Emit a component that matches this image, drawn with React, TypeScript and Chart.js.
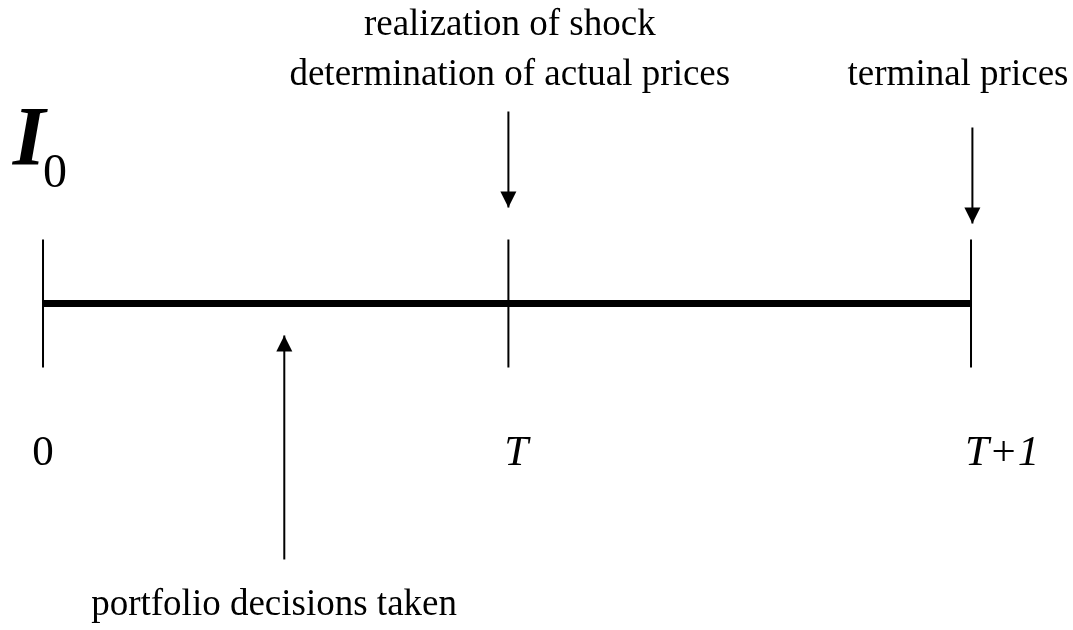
import React, { useEffect, useRef } from "react";
import { Chart, registerables } from "chart.js";

Chart.register(...registerables);

// Time points on the line: 0, T, T+1
const TIME_POINTS = [0, 1.003, 2];
const TIME_LABELS = ["0", "T", "T+1"];
const TIME_LABEL_X = [0, 1.02, 2.067];
const TIME_LABEL_Y = -2.52;
const TIME_LABEL_ITALIC = [false, true, true];

// Vertical extent of tick marks at each time point
const TICK_TOP = 1;
const TICK_BOTTOM = -1;

// Arrows: x position, start y, tip y
const ARROW_X = [1.003, 2.003, 0.52];
const ARROW_FROM = [3.0, 2.75, -4.0];
const ARROW_TO = [1.5, 1.25, -0.5];

// Annotation texts with anchor positions (data units)
const NOTE_TEXTS = [
  "realization of shock",
  "determination of actual prices",
  "terminal prices",
  "portfolio decisions taken",
];
const NOTE_X = [1.006, 1.006, 1.972, 0.498];
const NOTE_Y = [4.195, 3.414, 3.414, -4.867];

// Initial condition label I_0
const INIT_MAIN = "I";
const INIT_SUB = "0";
const INIT_MAIN_POS = [-0.03, 2.164];
const INIT_SUB_POS = [0.026, 1.82];

// Axis ranges
const X_RANGE = [-0.0927, 2.2198];
const Y_RANGE = [-5.102, 4.742];

const SERIF = '"Liberation Serif", "Times New Roman", serif';

export default function App() {
  const canvasRef = useRef<HTMLCanvasElement | null>(null);

  useEffect(() => {
    const canvas = canvasRef.current;
    if (!canvas) return;

    const datasets: any[] = [];
    // Main timeline
    datasets.push({
      label: "timeline",
      data: [
        { x: TIME_POINTS[0], y: 0 },
        { x: TIME_POINTS[TIME_POINTS.length - 1], y: 0 },
      ],
      borderColor: "#000",
      borderWidth: 7,
      borderCapStyle: "butt",
      pointRadius: 0,
      showLine: true,
    });
    // Tick marks
    TIME_POINTS.forEach((t, i) => {
      datasets.push({
        label: "tick" + i,
        data: [
          { x: t, y: TICK_TOP },
          { x: t, y: TICK_BOTTOM },
        ],
        borderColor: "#000",
        borderWidth: 2,
        pointRadius: 0,
        showLine: true,
      });
    });
    // Arrows
    ARROW_X.forEach((ax, i) => {
      datasets.push({
        label: "arrow" + i,
        isArrow: true,
        data: [
          { x: ax, y: ARROW_FROM[i] },
          { x: ax, y: ARROW_TO[i] },
        ],
        borderColor: "#000",
        borderWidth: 2,
        pointRadius: 0,
        showLine: true,
      });
    });

    const overlay = {
      id: "overlay",
      afterDatasetsDraw(chart: any) {
        const ctx = chart.ctx;
        const xs = chart.scales.x;
        const ys = chart.scales.y;
        ctx.save();
        // Arrowheads
        chart.data.datasets.forEach((ds: any, di: number) => {
          if (!ds.isArrow) return;
          const meta = chart.getDatasetMeta(di);
          const p0 = meta.data[0];
          const p1 = meta.data[1];
          const dir = p1.y > p0.y ? 1 : -1;
          const len = 16;
          const half = 8;
          ctx.beginPath();
          ctx.moveTo(p1.x, p1.y);
          ctx.lineTo(p1.x - half, p1.y - dir * len);
          ctx.lineTo(p1.x + half, p1.y - dir * len);
          ctx.closePath();
          ctx.fillStyle = "#000";
          ctx.fill();
        });
        // Texts
        ctx.fillStyle = "#000";
        ctx.textBaseline = "alphabetic";
        ctx.textAlign = "center";
        ctx.font = `37px ${SERIF}`;
        NOTE_TEXTS.forEach((t, i) => {
          ctx.fillText(t, xs.getPixelForValue(NOTE_X[i]), ys.getPixelForValue(NOTE_Y[i]));
        });
        TIME_LABELS.forEach((t, i) => {
          ctx.font = `${TIME_LABEL_ITALIC[i] ? "italic " : ""}43px ${SERIF}`;
          ctx.fillText(t, xs.getPixelForValue(TIME_LABEL_X[i]), ys.getPixelForValue(TIME_LABEL_Y));
        });
        ctx.font = `italic bold 84px ${SERIF}`;
        ctx.fillText(INIT_MAIN, xs.getPixelForValue(INIT_MAIN_POS[0]), ys.getPixelForValue(INIT_MAIN_POS[1]));
        ctx.font = `48px ${SERIF}`;
        ctx.fillText(INIT_SUB, xs.getPixelForValue(INIT_SUB_POS[0]), ys.getPixelForValue(INIT_SUB_POS[1]));
        ctx.restore();
      },
    };

    const chart = new Chart(canvas, {
      type: "scatter",
      data: { datasets },
      options: {
        animation: false,
        responsive: false,
        devicePixelRatio: 1,
        layout: { padding: 0 },
        plugins: {
          legend: { display: false },
          tooltip: { enabled: false },
          title: { display: false },
        },
        elements: { line: { tension: 0 } },
        datasets: { scatter: { clip: false as any } } as any,
        scales: {
          x: { type: "linear", min: X_RANGE[0], max: X_RANGE[1], display: false },
          y: { type: "linear", min: Y_RANGE[0], max: Y_RANGE[1], display: false },
        },
      },
      plugins: [overlay],
    });

    return () => chart.destroy();
  }, []);

  return (
    <div style={{ position: "fixed", left: 0, top: 0, width: 1073, height: 630, background: "#fff" }}>
      <canvas ref={canvasRef} width={1073} height={630} />
    </div>
  );
}
